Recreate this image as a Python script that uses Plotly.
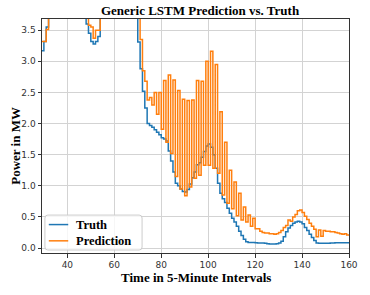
import plotly.graph_objects as go

# ---------------- data ----------------
x_start = 29
truth = [
    3.17, 3.32, 3.55, 3.80, 3.95, 4.05, 4.10, 4.15, 4.10, 4.05,   # 29-38
    4.00, 3.95, 3.95, 3.90, 3.90, 3.85, 3.85, 3.80, 3.75, 3.60,   # 39-48
    3.45, 3.32, 3.28, 3.32, 3.40, 3.90, 4.10, 4.30, 4.40, 4.45,   # 49-58
    4.50, 4.45, 4.40, 4.35, 4.30, 4.20, 4.10, 4.00, 3.90, 3.85,   # 59-68
    3.80, 3.31, 2.88, 2.52, 2.25, 2.00, 1.97, 1.94, 1.90, 1.86,   # 69-78
    1.82, 1.77, 1.75, 1.72, 1.56, 1.40, 1.22, 1.04, 1.00, 0.95,   # 79-88
    0.91, 0.90, 0.94, 1.03, 1.13, 1.22, 1.34, 1.37, 1.46, 1.55,   # 89-98
    1.64, 1.67, 1.62, 1.50, 1.28, 1.04, 0.88, 0.79, 0.73, 0.64,   # 99-108
    0.56, 0.48, 0.42, 0.35, 0.27, 0.20, 0.14, 0.10, 0.09, 0.09,   # 109-118
    0.09, 0.085, 0.08, 0.08, 0.08, 0.075, 0.07, 0.065, 0.065, 0.065,  # 119-128
    0.07, 0.08, 0.11, 0.18, 0.26, 0.32, 0.36, 0.40, 0.42, 0.43,   # 129-138
    0.42, 0.39, 0.33, 0.28, 0.22, 0.17, 0.12, 0.08, 0.075, 0.075,  # 139-148
    0.075, 0.075, 0.075, 0.08, 0.08, 0.085, 0.085, 0.085, 0.085, 0.085,  # 149-158
    0.085, 0.085,                                                  # 159-160
]
prediction = [
    3.32, 3.32, 3.51, 3.90, 4.00, 4.10, 4.15, 4.20, 4.15, 4.10,   # 29-38
    4.05, 4.00, 4.00, 3.95, 3.95, 3.90, 3.90, 3.85, 3.85, 3.90,   # 39-48
    3.58, 3.55, 3.37, 3.50, 3.50, 3.95, 4.10, 4.30, 4.40, 4.45,   # 49-58
    4.50, 4.45, 4.40, 4.35, 4.30, 4.20, 4.10, 4.00, 3.95, 3.90,   # 59-68
    3.85, 3.80, 3.35, 2.85, 2.68, 2.38, 2.42, 2.30, 2.50, 2.15,   # 69-78
    2.50, 1.91, 2.69, 1.70, 2.78, 1.52, 2.70, 1.15, 2.53, 0.95,   # 79-88
    2.39, 0.84, 2.37, 0.98, 2.38, 1.12, 2.69, 1.17, 2.68, 1.33,   # 89-98
    3.00, 1.33, 3.16, 1.28, 2.95, 1.20, 2.19, 0.85, 1.70, 0.72,   # 99-108
    1.25, 0.63, 1.06, 0.52, 0.88, 0.45, 0.66, 0.42, 0.53, 0.35,   # 109-118
    0.48, 0.31, 0.31, 0.27, 0.25, 0.24, 0.24, 0.23, 0.23, 0.22,   # 119-128
    0.23, 0.25, 0.28, 0.33, 0.36, 0.45, 0.43, 0.50, 0.54, 0.60,   # 129-138
    0.61, 0.57, 0.51, 0.46, 0.40, 0.35, 0.30, 0.18, 0.29, 0.19,   # 139-148
    0.28, 0.27, 0.27, 0.26, 0.26, 0.25, 0.24, 0.23, 0.22, 0.23,   # 149-158
    0.21, 0.20,                                                    # 159-160
]
x_vals = list(range(x_start, x_start + len(truth)))

series_names = ["Truth", "Prediction"]
series_colors = ["#1f77b4", "#ff7f0e"]

x_ticks = [40, 60, 80, 100, 120, 140, 160]
y_ticks = [0.0, 0.5, 1.0, 1.5, 2.0, 2.5, 3.0, 3.5]

title_text = "Generic LSTM Prediction vs. Truth"
x_label = "Time in 5-Minute Intervals"
y_label = "Power in MW"

# ---------------- figure ----------------
W, H = 370, 295
L, R, T, B = 42, 12, 19, 42
PW, PH = W - L - R, H - T - B

serif = "Liberation Serif, Times New Roman, serif"
sans = "DejaVu Sans, sans-serif"


def px_x(p):
    return (p - L) / PW


def px_y(p):
    return (H - B - p) / PH


fig = go.Figure()
for name, vals, col in zip(series_names, [truth, prediction], series_colors):
    fig.add_trace(go.Scatter(x=x_vals, y=vals, mode="lines", name=name,
                             line=dict(color=col, width=1.5, shape="hv"),
                             showlegend=False))

axis_common = dict(
    showgrid=True, gridcolor="#d3d3d3", gridwidth=1,
    showline=True, linecolor="#333333", linewidth=1, mirror=True,
    ticks="outside", ticklen=3.5, tickcolor="#333333",
    tickfont=dict(family=sans, size=9, color="#333333"),
    zeroline=False,
)

# legend (rounded box + samples + labels) in the lower-left corner
lg_font = 12.5
row_gap = lg_font * 1.3
row_center = 232.7
rows_py = [row_center - row_gap / 2, row_center + row_gap / 2]
bx0, bx1 = 45, 145
by0, by1 = rows_py[0] - 9.5, 250
r = 3
x0, x1 = px_x(bx0), px_x(bx1)
y0, y1 = px_y(by1), px_y(by0)
rx, ry = r / PW, r / PH
path = (f"M{x0+rx},{y0} L{x1-rx},{y0} Q{x1},{y0} {x1},{y0+ry} "
        f"L{x1},{y1-ry} Q{x1},{y1} {x1-rx},{y1} L{x0+rx},{y1} Q{x0},{y1} {x0},{y1-ry} "
        f"L{x0},{y0+ry} Q{x0},{y0} {x0+rx},{y0} Z")
shapes = [dict(type="path", xref="paper", yref="paper", path=path,
               fillcolor="rgba(255,255,255,0.8)", line=dict(color="#cccccc", width=1),
               layer="above")]
for col, py in zip(series_colors, rows_py):
    shapes.append(dict(type="line", xref="paper", yref="paper",
                       x0=px_x(49), x1=px_x(69), y0=px_y(py), y1=px_y(py),
                       line=dict(color=col, width=1.5), layer="above"))

annotations = [
    dict(text="<br>".join(series_names), xref="paper", yref="paper",
         x=px_x(75), y=px_y(row_center), xanchor="left", yanchor="middle", align="left",
         showarrow=False,
         font=dict(family=serif, size=lg_font, color="black", weight="bold")),
    dict(text=x_label, xref="paper", yref="paper", x=0.5, y=px_y(277),
         xanchor="center", yanchor="middle", showarrow=False,
         font=dict(family=serif, size=13, color="black", weight="bold")),
    dict(text=y_label, xref="paper", yref="paper", x=px_x(14), y=px_y(146),
         xanchor="center", yanchor="middle", showarrow=False, textangle=-90,
         font=dict(family=serif, size=13, color="black", weight="bold")),
]

fig.update_layout(
    width=W, height=H,
    margin=dict(l=L, r=R, t=T, b=B),
    paper_bgcolor="white", plot_bgcolor="white",
    title=dict(text=title_text, x=200 / W, xanchor="center", y=1 - 10 / H,
               yanchor="middle", yref="container",
               font=dict(family=serif, size=13, color="black", weight="bold")),
    xaxis=dict(range=[29.2, 160], tickvals=x_ticks, **axis_common),
    yaxis=dict(range=[-0.08, 3.68], tickvals=y_ticks, tickformat=".1f", **axis_common),
    showlegend=False,
    shapes=shapes,
    annotations=annotations,
)

fig.write_html("out.html", config={"displayModeBar": False},
               post_script="document.body.style.margin='0px';")
